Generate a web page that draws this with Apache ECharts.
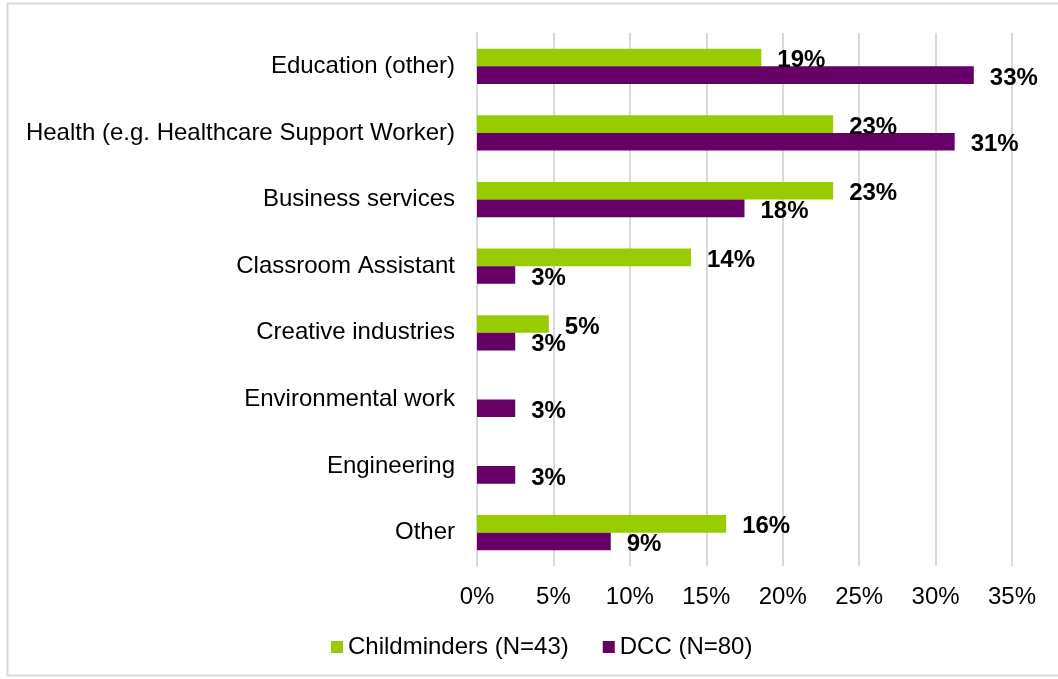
<!DOCTYPE html>
<html>
<head>
<meta charset="utf-8">
<script src="https://cdn.jsdelivr.net/npm/echarts@6/dist/echarts.min.js"></script>
<style>
html,body{margin:0;padding:0;background:#fff;}
#chart{width:1058px;height:679px;}
</style>
</head>
<body>
<div id="chart"></div>
<script>
const categories = ['Education (other)', 'Health (e.g. Healthcare Support Worker)', 'Business services', 'Classroom Assistant', 'Creative industries', 'Environmental work', 'Engineering', 'Other'];
const childminders = [18.6, 23.3, 23.3, 14.0, 4.7, null, null, 16.3];
const dcc = [32.5, 31.25, 17.5, 2.5, 2.5, 2.5, 2.5, 8.75];
const seriesNames = ['Childminders (N=43)', 'DCC (N=80)'];
const xTicks = [0, 5, 10, 15, 20, 25, 30, 35];

const font = '"Liberation Sans", Arial, sans-serif';
const chart = echarts.init(document.getElementById('chart'), null, {renderer: 'canvas'});
const labelCfg = {
  show: true, position: 'right', distance: 16, offset: [0, 3],
  color: '#000', fontWeight: 'bold', fontSize: 24, fontFamily: font,
  formatter: p => Math.round(p.value) + '%'
};
chart.setOption({
  animation: false,
  graphic: [{
    type: 'rect', silent: true,
    shape: {x: 7.5, y: 3.5, width: 1100, height: 672},
    style: {fill: 'none', stroke: '#d9d9d9', lineWidth: 2}
  }],
  grid: {left: 477, right: 46, top: 33, bottom: 113, containLabel: false},
  legend: {
    left: 331, top: 635, padding: 0, itemWidth: 12, itemHeight: 12, itemGap: 34,
    icon: 'rect',
    textStyle: {fontSize: 24, fontFamily: font, color: '#000'},
    data: seriesNames
  },
  xAxis: {
    type: 'value', min: xTicks[0], max: xTicks[xTicks.length - 1], interval: 5,
    axisLine: {show: false}, axisTick: {show: false},
    splitLine: {show: true, lineStyle: {color: '#d9d9d9', width: 2}},
    axisLabel: {fontSize: 24, fontFamily: font, color: '#000', margin: 19, formatter: v => v + '%'}
  },
  yAxis: {
    type: 'category', data: categories, inverse: true,
    axisLine: {show: true, lineStyle: {color: '#d9d9d9', width: 2}},
    axisTick: {show: false},
    axisLabel: {fontSize: 24, fontFamily: font, color: '#000', margin: 22}
  },
  series: [
    {name: seriesNames[0], type: 'bar', data: childminders, barGap: '0%', barCategoryGap: '47%',
     itemStyle: {color: '#99cc00'}, label: labelCfg},
    {name: seriesNames[1], type: 'bar', data: dcc, barGap: '0%', barCategoryGap: '47%',
     itemStyle: {color: '#660066'}, label: labelCfg}
  ]
});
</script>
</body>
</html>
